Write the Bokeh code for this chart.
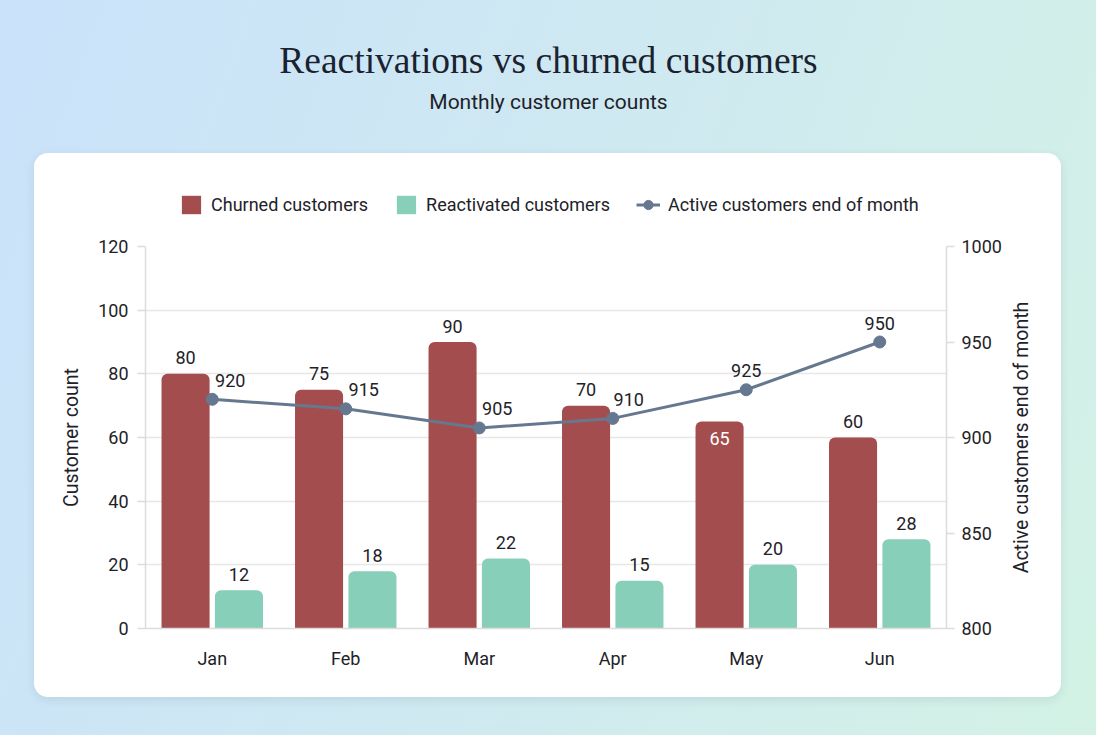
# Churned vs reactivated customers, with active customers on a second axis.
import math

from bokeh.core.properties import value
from bokeh.embed import file_html
from bokeh.layouts import column, row
from bokeh.models import (ColumnDataSource, FactorRange, FixedTicker, Label,
                          LabelSet, Legend, LegendItem, LinearAxis, Range1d)
from bokeh.plotting import figure
from bokeh.resources import INLINE
from bokeh.transform import dodge

months = ["Jan", "Feb", "Mar", "Apr", "May", "Jun"]
churned = [80, 75, 90, 70, 65, 60]
reactivated = [12, 18, 22, 15, 20, 28]
active = [920, 915, 905, 910, 925, 950]

count_ticks = [0, 20, 40, 60, 80, 100, 120]
active_ticks = [800, 850, 900, 950, 1000]

CHURN = "#a44d4f"
REACT = "#88cfb9"
LINE = "#66788f"
TEXT = "#1e2228"
AXIS = "#dcdcdc"
FONT = "Roboto"

# label placement (style only): May's churn label sits inside its bar
churn_dy = [16, 16, 16, 16, -17, 16]
churn_col = [TEXT, TEXT, TEXT, TEXT, "white", TEXT]
active_dx = [18, 18, 18, 16, 0, 0]

src = ColumnDataSource(data={
    "month": months,
    "churned": churned,
    "reactivated": reactivated,
    "active": active,
    "churned_txt": [str(v) for v in churned],
    "reactivated_txt": [str(v) for v in reactivated],
    "active_txt": [str(v) for v in active],
    "churn_dy": churn_dy,
    "churn_col": churn_col,
    "active_dx": active_dx,
})


def blank_figure(width, height, x_range, y_range, **kw):
    f = figure(width=width, height=height, x_range=x_range, y_range=y_range,
               output_backend="svg", toolbar_location=None, min_border=0,
               x_axis_location=None, y_axis_location=None, **kw)
    f.grid.visible = False
    f.outline_line_color = None
    f.border_fill_color = None
    f.background_fill_color = None
    return f


# header with title and subtitle, on the page gradient
header = blank_figure(1096, 153, Range1d(0, 1096), Range1d(153, 0))
header.add_layout(Label(x=548, y=60, text="Reactivations vs churned customers",
                        text_align="center", text_baseline="middle", text_font="Liberation Serif",
                        text_font_size="37.5px", text_color="#1a2230"))
header.add_layout(Label(x=548, y=101, text="Monthly customer counts",
                        text_align="center", text_baseline="middle", text_font=FONT,
                        text_font_size="21px", text_color=TEXT))

# legend strip at the top of the card; its swatch renderers draw nothing visible
key = blank_figure(1027, 78, FactorRange(*months), Range1d(500, 600),
                   min_border_left=111, min_border_right=115)
key_c = key.vbar(x="month", top="churned", width=0, source=src, fill_color=CHURN, line_color=None)
key_r = key.vbar(x="month", top="reactivated", width=0, source=src, fill_color=REACT, line_color=None)
key_l = key.line(x="month", y="active", source=src, line_color=LINE, line_width=3)
key_p = key.scatter(x="month", y="active", source=src, size=13, fill_color=LINE, line_color=LINE)
legend = Legend(items=[LegendItem(label="Churned customers", renderers=[key_c]),
                       LegendItem(label="Reactivated customers", renderers=[key_r]),
                       LegendItem(label="Active customers end of month", renderers=[key_l, key_p])],
                orientation="horizontal", location=(34, 15), glyph_width=24, glyph_height=23,
                label_standoff=8, spacing=26, padding=0, margin=0, border_line_color=None,
                background_fill_alpha=0, label_text_font=FONT, label_text_font_size="18px",
                label_text_color=TEXT)
key.add_layout(legend)

# the chart itself
p = figure(width=977, height=466, x_range=FactorRange(*months), y_range=Range1d(0, 120),
           output_backend="svg", toolbar_location=None,
           min_border_left=111, min_border_right=65, min_border_top=15, min_border_bottom=69)
p.extra_y_ranges = {"active": Range1d(800, 1000)}
p.border_fill_color = None
p.background_fill_color = None
p.outline_line_color = None

p.vbar(x=dodge("month", -0.2, range=p.x_range), top="churned", width=0.36, source=src,
       fill_color=CHURN, line_color=None, border_radius=(6, 6, 0, 0))
p.vbar(x=dodge("month", 0.2, range=p.x_range), top="reactivated", width=0.36, source=src,
       fill_color=REACT, line_color=None, border_radius=(6, 6, 0, 0))
p.line(x="month", y="active", source=src, y_range_name="active", line_color=LINE, line_width=3)
p.scatter(x="month", y="active", source=src, y_range_name="active", size=12,
          fill_color=LINE, line_color=LINE)

p.add_layout(LabelSet(x=dodge("month", -0.2, range=p.x_range), y="churned", text="churned_txt",
                      source=src, y_offset="churn_dy", text_color="churn_col", text_align="center",
                      text_baseline="middle", text_font=value(FONT), text_font_size="18px"))
p.add_layout(LabelSet(x=dodge("month", 0.2, range=p.x_range), y="reactivated", text="reactivated_txt",
                      source=src, y_offset=16, text_color=TEXT, text_align="center",
                      text_baseline="middle", text_font=value(FONT), text_font_size="18px"))
p.add_layout(LabelSet(x="month", y="active", y_range_name="active", text="active_txt", source=src,
                      x_offset="active_dx", y_offset=19, text_color=TEXT, text_align="center",
                      text_baseline="middle", text_font=value(FONT), text_font_size="18px"))

# axes
p.yaxis.ticker = FixedTicker(ticks=count_ticks)
p.yaxis.axis_label = "Customer count"
right = LinearAxis(y_range_name="active", ticker=FixedTicker(ticks=active_ticks))
p.add_layout(right, "right")

for ax in p.yaxis + p.xaxis:
    ax.axis_line_color = AXIS
    ax.axis_line_width = 1.5
    ax.major_tick_line_color = AXIS
    ax.major_tick_line_width = 1.5
    ax.major_tick_in = 0
    ax.major_tick_out = 8
    ax.minor_tick_line_color = None
    ax.major_label_text_font = FONT
    ax.major_label_text_font_size = "18px"
    ax.major_label_text_color = TEXT
    ax.axis_label_text_font = FONT
    ax.axis_label_text_font_size = "19.5px"
    ax.axis_label_text_font_style = "normal"
    ax.axis_label_text_color = TEXT
    ax.major_label_standoff = 9
    ax.axis_label_standoff = 12

p.xaxis.major_tick_out = 0
p.xaxis.major_label_standoff = 19
right.major_label_standoff = 7

p.xgrid.grid_line_color = None
p.ygrid.grid_line_color = "#e7e7e7"
p.ygrid.grid_line_width = 1.5

# title of the right axis, reading bottom to top
side = blank_figure(50, 466, Range1d(0, 1), Range1d(0, 1), min_border_top=15, min_border_bottom=69)
side.add_layout(Label(x=10, y=206, x_units="canvas", y_units="canvas",
                      text="Active customers end of month", angle=math.pi / 2,
                      text_align="center", text_baseline="middle", text_font=FONT,
                      text_font_size="19.5px", text_color=TEXT))

card = column(key, row(p, side, spacing=0), width=1027, height=544, spacing=0, margin=(0, 0, 0, 34),
              styles={"background": "white", "border-radius": "14px",
                      "box-shadow": "0 3px 10px rgba(60, 90, 110, 0.12)"})

page = column(header, card, width=1096, height=735, spacing=0,
              styles={"background": "linear-gradient(110deg, #cae2fa 0%, #cfe9f1 50%, #d3f2e5 100%)"})

open("out.html", "w").write(file_html(page, INLINE))
